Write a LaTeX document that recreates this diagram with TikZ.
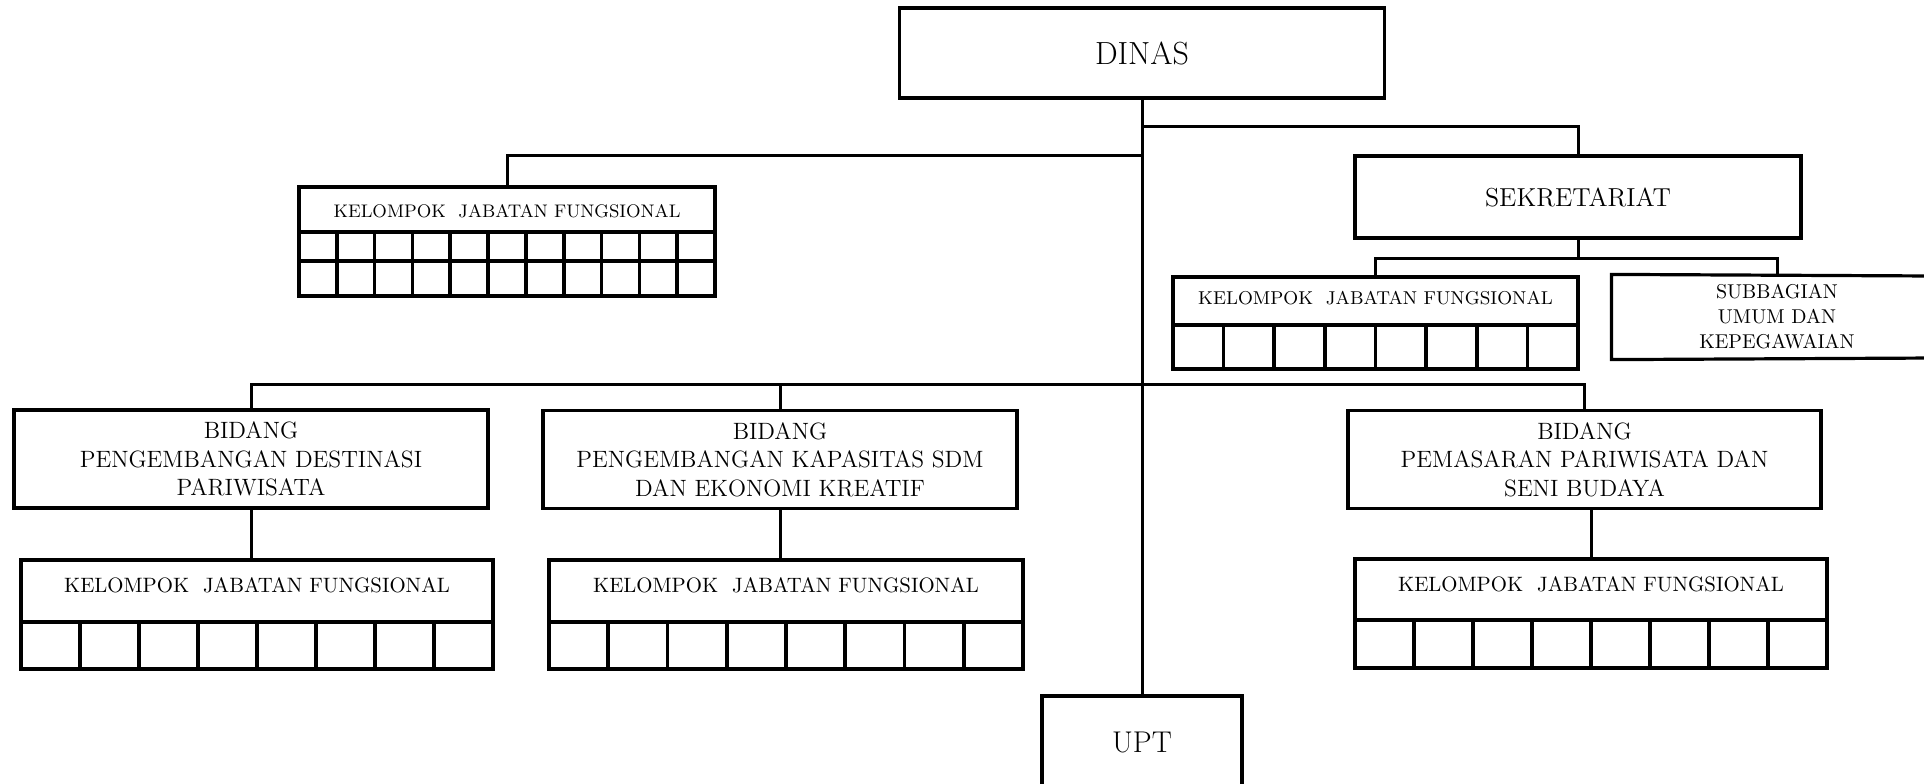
\documentclass[tikz,border=0pt]{standalone}
\usepackage{tikz}

\tikzset{
  unitbox/.style={draw, line width=1.6pt, inner sep=0pt, align=center},
  kjfbox/.style={draw, line width=2pt, inner sep=0pt, anchor=north},
  link/.style={line width=1.5pt},
  cell/.style={line width=1.8pt},
}

\begin{document}
\begin{tikzpicture}[x=0.5pt,y=-0.5pt]
    \useasboundingbox (0,0) rectangle (1924,783);
    % top level
    \node[unitbox, minimum width=242.5pt, minimum height=45pt,
        font=\fontsize{16}{19}\selectfont] (dinas) at (1142,53) {DINAS};
    \node[unitbox, minimum width=223pt, minimum height=41pt,
        font=\fontsize{13}{15}\selectfont] (sek) at (1578,197) {SEKRETARIAT};
    % subbagian runs off the right edge
    \node[unitbox, draw=none, minimum width=164pt, minimum height=41pt,
        font=\fontsize{10}{12.5}\selectfont] (sub) at (1777,317)
        {SUBBAGIAN\\UMUM DAN\\KEPEGAWAIAN};
    \draw[line width=1.6pt] (1934,276) -- (sub.north west)
        -- (sub.south west) -- (1934,358);
    \node[unitbox, minimum width=100pt, minimum height=46pt,
        font=\fontsize{15}{18}\selectfont] (upt) at (1142,742) {UPT};
    % bidang
    \node[unitbox, minimum width=237pt, minimum height=49pt,
        font=\fontsize{11.8}{14.25}\selectfont] (bidA) at (251,459)
        {BIDANG\\PENGEMBANGAN DESTINASI\\PARIWISATA};
    \node[unitbox, minimum width=237pt, minimum height=49pt,
        font=\fontsize{11.8}{14.25}\selectfont] (bidB) at (780,459.5)
        {BIDANG\\PENGEMBANGAN KAPASITAS SDM\\DAN EKONOMI KREATIF};
    \node[unitbox, minimum width=236.5pt, minimum height=49pt,
        font=\fontsize{11.8}{14.25}\selectfont] (bidC) at (1584.5,459.5)
        {BIDANG\\PEMASARAN PARIWISATA DAN\\SENI BUDAYA};
    % kelompok jabatan fungsional
    \node[kjfbox, minimum width=208pt, text height=15pt, text depth=39.5pt,
        font=\fontsize{9.1}{11}\selectfont] (kjfA) at (507,185)
        {KELOMPOK\ \ JABATAN FUNGSIONAL};
    \node[kjfbox, minimum width=202.5pt, text height=13.5pt, text depth=32.5pt,
        font=\fontsize{9.3}{11}\selectfont] (kjfB) at (1375.5,275)
        {KELOMPOK\ \ JABATAN FUNGSIONAL};
    \node[kjfbox, minimum width=236pt, text height=16pt, text depth=38.5pt,
        font=\fontsize{10.4}{12}\selectfont] (kjfC) at (257,558)
        {KELOMPOK\ \ JABATAN FUNGSIONAL};
    \node[kjfbox, minimum width=237pt, text height=16pt, text depth=38.5pt,
        font=\fontsize{10.4}{12}\selectfont] (kjfD) at (786,558)
        {KELOMPOK\ \ JABATAN FUNGSIONAL};
    \node[kjfbox, minimum width=236pt, text height=16pt, text depth=38.5pt,
        font=\fontsize{10.4}{12}\selectfont] (kjfE) at (1591,557)
        {KELOMPOK\ \ JABATAN FUNGSIONAL};
    % cells
    \draw[cell] (299,232) -- (715,232);
    \draw[cell] (299,261) -- (715,261);
    \foreach \i in {1,...,10}
        \draw[cell] ({299+37.82*\i},232) -- ({299+37.82*\i},294);
    \draw[cell] (1173,325) -- (1578,325);
    \foreach \i in {1,...,7}
        \draw[cell] ({1173+50.63*\i},325) -- ({1173+50.63*\i},367);
    \draw[cell] (21,622) -- (493,622);
    \foreach \i in {1,...,7}
        \draw[cell] ({21+59*\i},622) -- ({21+59*\i},667);
    \draw[cell] (549,622) -- (1023,622);
    \foreach \i in {1,...,7}
        \draw[cell] ({549+59.25*\i},622) -- ({549+59.25*\i},667);
    \draw[cell] (1355,620) -- (1827,620);
    \foreach \i in {1,...,7}
        \draw[cell] ({1355+59*\i},620) -- ({1355+59*\i},666);
    % connectors
    \coordinate (jSek) at (1142,126);
    \coordinate (jKjf) at (1142,155);
    \coordinate (jBid) at (1142,384);
    \coordinate (jSub) at (1578,258);
    \draw[link] (dinas.south) -- (upt.north);
    \draw[link] (jSek) -| (sek.north);
    \draw[link] (jKjf) -| (kjfA.north);
    \draw[link] (bidA.north) |- (jBid) -| (bidC.north);
    \draw[link] (bidB.north) -- (bidB.north |- jBid);
    \draw[link] (sek.south) -- (jSub);
    \draw[link] (kjfB.north) |- (jSub) -| (sub.north);
    \draw[link] (bidA.south) -- (bidA.south |- kjfC.north);
    \draw[link] (bidB.south) -- (bidB.south |- kjfD.north);
    \draw[link] (kjfE.north) -- (kjfE.north |- bidC.south);
\end{tikzpicture}
\end{document}
